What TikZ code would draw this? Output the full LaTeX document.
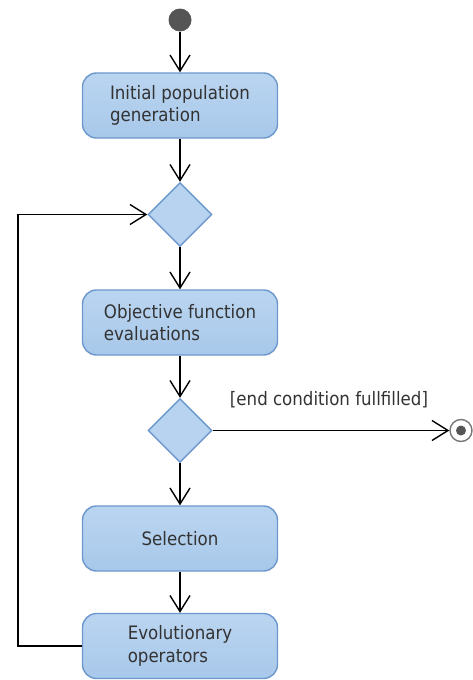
\documentclass[tikz,border=0pt]{standalone}
\usepackage{fontspec}
\setmainfont{DejaVu Sans Condensed}
\usetikzlibrary{shapes.geometric,arrows.meta}
\definecolor{bordercol}{RGB}{108,151,204}
\definecolor{filltop}{RGB}{186,213,240}
\definecolor{fillbot}{RGB}{168,200,234}
\definecolor{diafill}{RGB}{183,211,239}
\definecolor{txtcol}{RGB}{51,51,51}
\definecolor{dotcol}{RGB}{85,85,85}
\tikzset{
  action/.style={draw=bordercol, line width=1.4pt, rounded corners=14pt,
    top color=filltop, bottom color=fillbot, minimum width=195pt, minimum height=65pt,
    inner sep=0pt, align=left, text=txtcol, font=\fontsize{18.5}{22.5}\selectfont},
  decision/.style={diamond, draw=bordercol, line width=1.4pt, fill=diafill,
    minimum width=64pt, minimum height=64pt, inner sep=0pt},
  arr/.style={line width=1.4pt, -{Straight Barb[length=16pt, width=20pt, line width=1.4pt]}},
  lbl/.style={text=txtcol, font=\fontsize{18.5}{22}\selectfont}
}
\begin{document}
\begin{tikzpicture}[x=1pt,y=-1pt]
\useasboundingbox (0,0) rectangle (473,680);
\node[circle, fill=dotcol, minimum size=23pt, inner sep=0pt] (start) at (180,20) {};
\node[action] (init) at (180,105.5) {Initial population\\generation};
\node[decision] (d1) at (180,214.5) {};
\node[action] (obj) at (180,322.5) {Objective function\\evaluations};
\node[decision] (d2) at (180,430.5) {};
\node[action] (sel) at (180,538.5) {Selection};
\node[action] (evo) at (180,646) {Evolutionary\\operators};
\node[circle, draw=dotcol!80, line width=1.4pt, fill=white, minimum size=22pt, inner sep=0pt] (end) at (461,430.5) {};
\node[circle, fill=dotcol, minimum size=10pt, inner sep=0pt] (enddot) at (end) {};
\coordinate (lx) at (18,0);
\draw[arr] (start) -- (init);
\draw[arr] (init) -- (d1);
\draw[arr] (d1) -- (obj);
\draw[arr] (obj) -- (d2);
\draw[arr] (d2) -- (sel);
\draw[arr] (sel) -- (evo);
\draw[arr] (evo.west) -- (evo.west -| lx) |- (d1.west);
\draw[arr] (d2.east) -- (end.west);
\node[lbl] (cond) at (329,400) {[end condition fullfilled]};
\end{tikzpicture}
\end{document}
